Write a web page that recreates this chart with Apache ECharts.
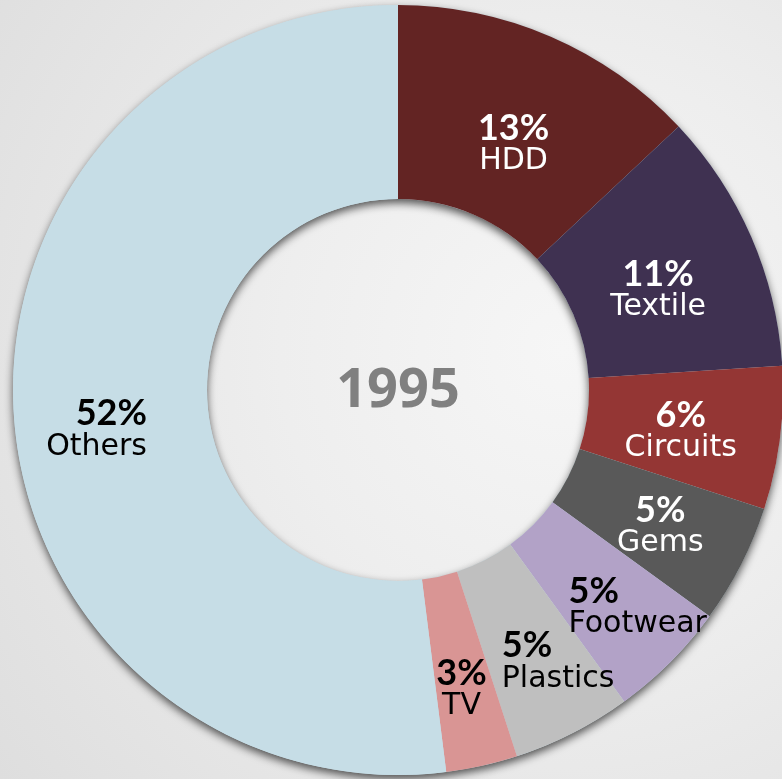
<!DOCTYPE html>
<html>
<head>
<meta charset="utf-8">
<script src="https://cdn.jsdelivr.net/npm/echarts@6/dist/echarts.min.js"></script>
<style>
  html, body { margin: 0; padding: 0; }
  body {
    width: 782px; height: 779px; overflow: hidden;
    background: radial-gradient(circle at 72% 45%, #f6f6f6 0%, #eeeeee 40%, #dedede 100%);
  }
  #chart { width: 782px; height: 779px; }
</style>
</head>
<body>
<div id="chart"></div>
<script>
// Export composition, 1995 (share of total, %)
const categories = ['HDD', 'Textile', 'Circuits', 'Gems', 'Footwear', 'Plastics', 'TV', 'Others'];
const shares = [13, 11, 6, 5, 5, 5, 3, 52];
const yearLabel = '1995';

const sliceColors = ['#632423', '#3f3151', '#943634', '#595959', '#b2a2c7', '#bfbfbf', '#d99594', '#c6dde6'];
const labelColors = ['#ffffff', '#ffffff', '#ffffff', '#ffffff', '#000000', '#000000', '#000000', '#000000'];
// how the two label lines line up inside each slice
const labelAligns = ['center', 'center', 'center', 'center', 'left', 'left', 'center', 'right'];
// small nudges (px) of each label away from the mid-ring anchor
const labelNudge = [[0, 22], [-7, 16], [-6, 5], [3, 5], [34, 12], [28, 13], [0, 16], [-11, 22]];

const center = [398, 390];
const radius = [191, 385];

const chart = echarts.init(document.getElementById('chart'), null, { renderer: 'canvas' });

const total = shares.reduce((a, b) => a + b, 0);

chart.setOption({
  backgroundColor: 'transparent',
  animation: false,
  graphic: [{
    type: 'text',
    x: center[0],
    y: center[1] + 2,
    z: 10,
    style: {
      text: yearLabel,
      align: 'center',
      verticalAlign: 'middle',
      fontFamily: 'Open Sans',
      fontWeight: 'bold',
      fontSize: 54,
      fill: '#808080'
    }
  }],
  series: [
    {
      // backdrop ring that casts the drop shadow
      type: 'pie',
      silent: true,
      center: center,
      radius: radius,
      startAngle: 90,
      label: { show: false },
      labelLine: { show: false },
      itemStyle: {
        color: '#c6dde6',
        shadowColor: 'rgba(0,0,0,0.65)',
        shadowBlur: 8,
        shadowOffsetY: 4
      },
      data: [{ name: 'ring', value: total }],
      z: 1
    },
    {
      type: 'pie',
      center: center,
      radius: radius,
      startAngle: 90,
      clockwise: true,
      avoidLabelOverlap: false,
      labelLine: { show: false },
      itemStyle: { borderWidth: 0 },
      labelLayout: p => ({
        dx: labelNudge[p.dataIndex][0],
        dy: labelNudge[p.dataIndex][1],
        hideOverlap: false
      }),
      label: {
        show: true,
        position: 'inside',
        formatter: p => '{p|' + p.value + '%}\n{n|' + p.name + '}'
      },
      data: categories.map((name, i) => ({
        name: name,
        value: shares[i],
        itemStyle: { color: sliceColors[i] },
        label: {
          color: labelColors[i],
          rich: {
            p: { fontFamily: 'Lato', fontWeight: 'bold', fontSize: 36, lineHeight: 33, color: labelColors[i], align: labelAligns[i] },
            n: { fontFamily: 'DejaVu Sans', fontSize: 30, lineHeight: 33, color: labelColors[i], align: labelAligns[i] }
          }
        }
      })),
      z: 2
    }
  ]
});
</script>
</body>
</html>
